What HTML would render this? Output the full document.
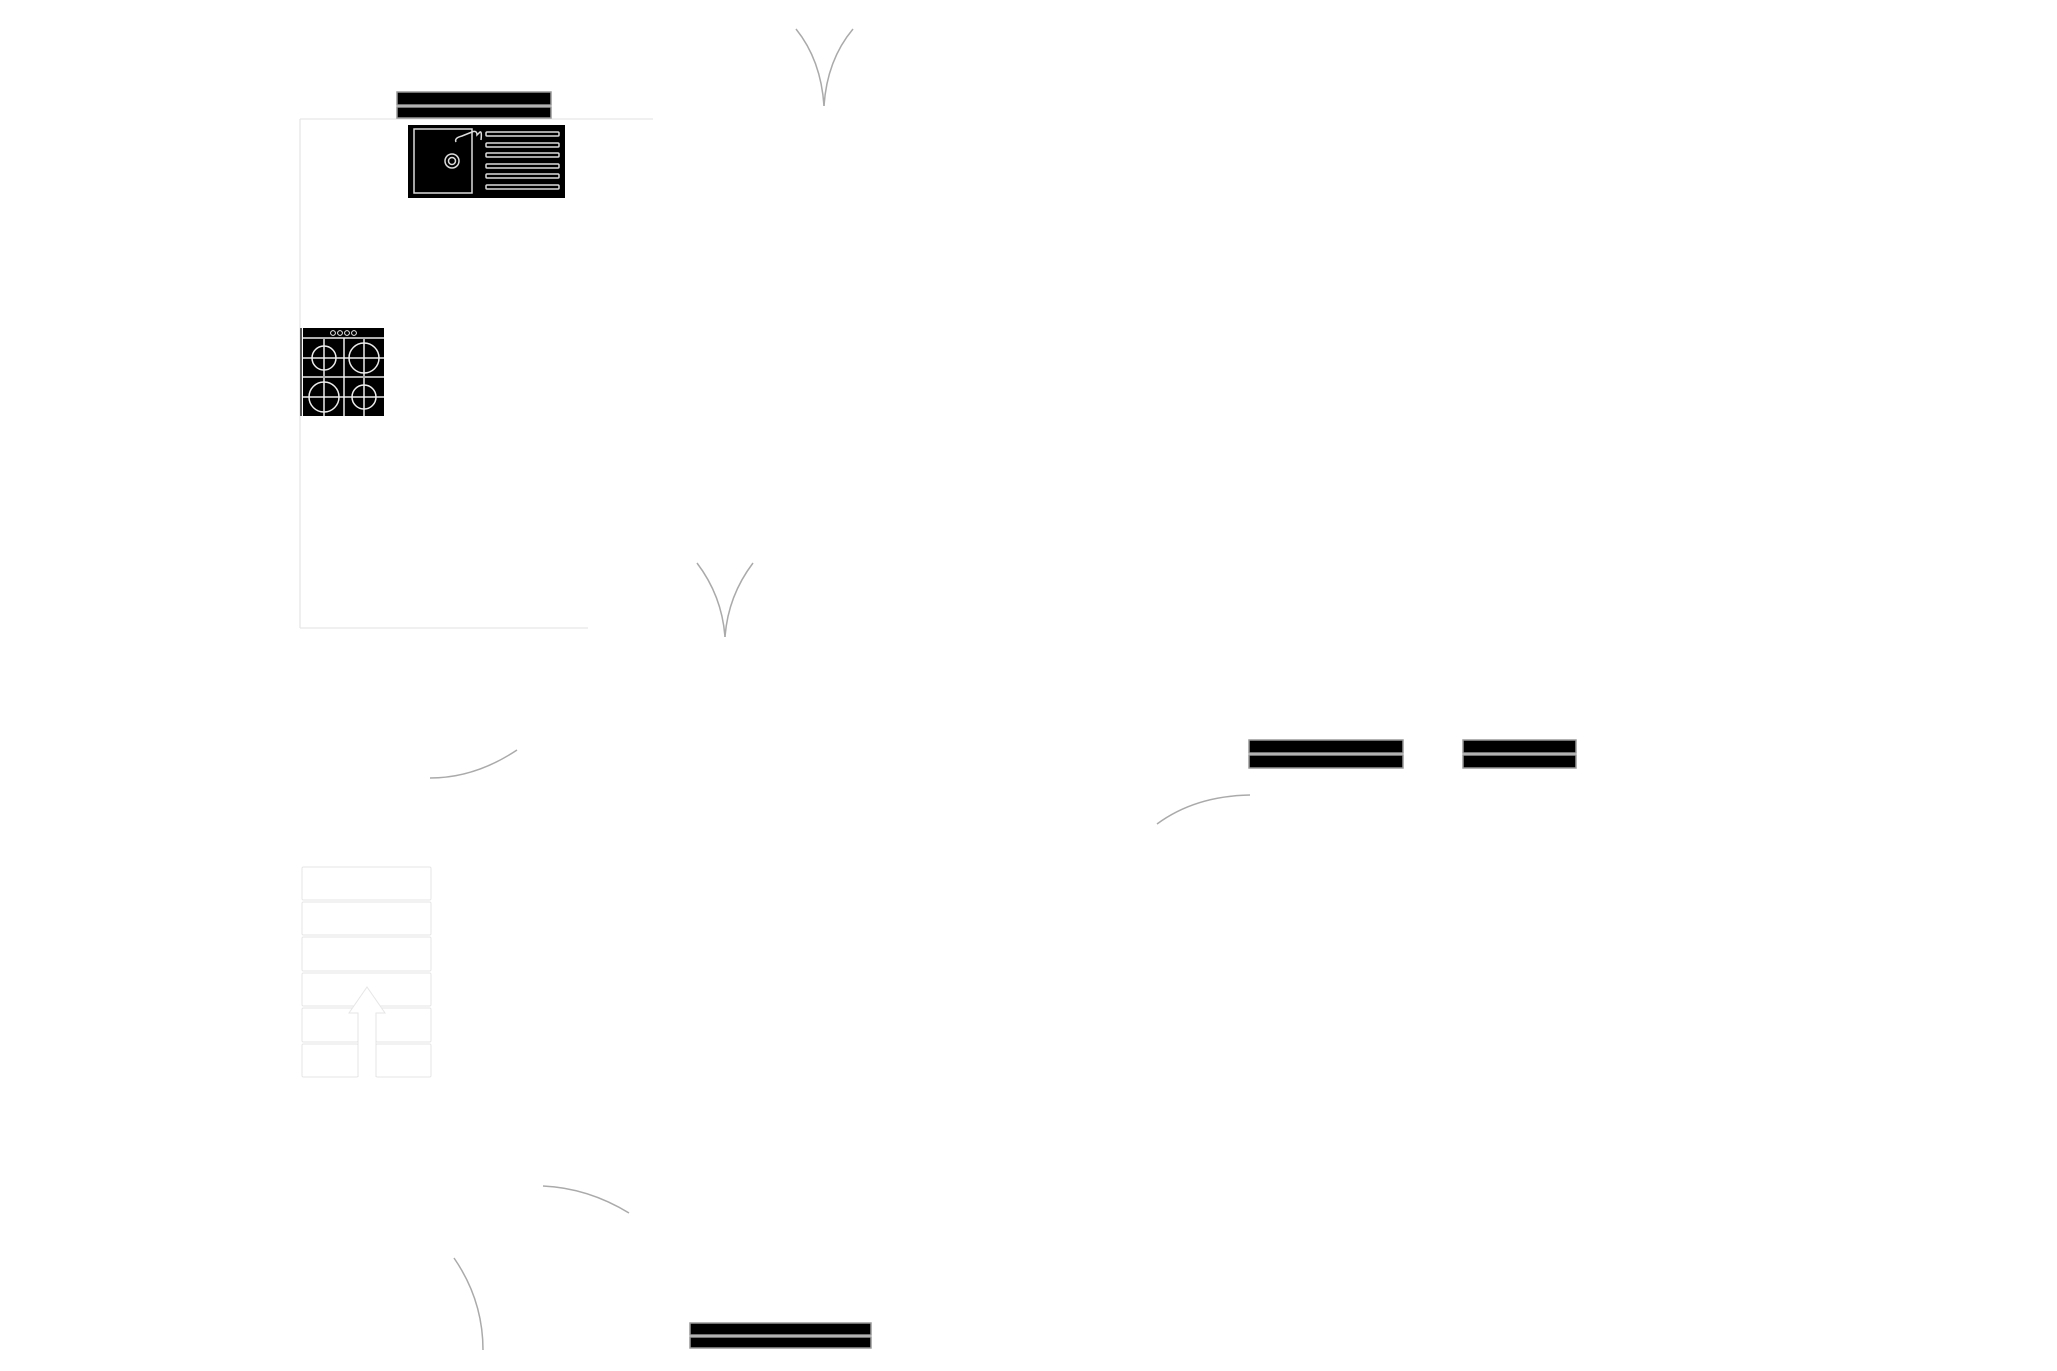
<!DOCTYPE html>
<html><head><meta charset="utf-8"><style>html,body{margin:0;padding:0;background:#fff;}svg{display:block}</style></head>
<body>
<svg width="2057" height="1371" viewBox="0 0 2057 1371" xmlns="http://www.w3.org/2000/svg">
<rect width="2057" height="1371" fill="#fff"/>
<g stroke="#e6e6e6" stroke-width="1.3" fill="none">
<line x1="300" y1="119" x2="653" y2="119"/>
<line x1="300" y1="119" x2="300" y2="628"/>
<line x1="300" y1="628" x2="588" y2="628"/>
</g>
<g fill="#000" stroke="#999" stroke-width="1.5">
<rect x="397" y="92" width="154" height="13"/>
<rect x="397" y="107" width="154" height="11"/>
<rect x="1249" y="740" width="154" height="13"/>
<rect x="1249" y="755" width="154" height="13"/>
<rect x="1463" y="740" width="113" height="13"/>
<rect x="1463" y="755" width="113" height="13"/>
<rect x="690" y="1323" width="181" height="12"/>
<rect x="690" y="1337" width="181" height="11"/>
</g>
<!-- sink -->
<rect x="408" y="125" width="157" height="73" fill="#000"/>
<g stroke="#ddd" stroke-width="1.5" fill="none">
<rect x="414" y="129" width="58" height="64"/>
<circle cx="452" cy="161" r="7"/><circle cx="452" cy="161" r="3.5"/>
<path d="M456 142 q-2 -4 6 -6 l10 -4 q5 -2 5 3 l3 -3 q2 -1 1 8"/>
<rect x="486" y="132" width="73" height="4" rx="1"/>
<rect x="486" y="143" width="73" height="4" rx="1"/>
<rect x="486" y="153" width="73" height="4" rx="1"/>
<rect x="486" y="164" width="73" height="4" rx="1"/>
<rect x="486" y="174" width="73" height="4" rx="1"/>
<rect x="486" y="185" width="73" height="4" rx="1"/>
</g>
<!-- stove -->
<rect x="303" y="328" width="81" height="88" fill="#000"/>
<line x1="301" y1="328" x2="301" y2="416" stroke="#555" stroke-width="2"/>
<g stroke="#eee" stroke-width="1.5" fill="none">
<line x1="303" y1="338" x2="384" y2="338"/>
<line x1="303" y1="377" x2="384" y2="377"/>
<line x1="344" y1="338" x2="344" y2="416"/>
<circle cx="333" cy="333" r="2.4" stroke-width="1"/><circle cx="340" cy="333" r="2.4" stroke-width="1"/>
<circle cx="347" cy="333" r="2.4" stroke-width="1"/><circle cx="354" cy="333" r="2.4" stroke-width="1"/>
<circle cx="324" cy="358" r="12"/><circle cx="364" cy="358" r="15"/>
<circle cx="324" cy="397" r="15"/><circle cx="364" cy="397" r="12"/>
<path d="M303 358h41M324 339v37M344 358h40M364 339v37M303 397h41M324 378v38M344 397h40M364 378v38"/>
</g>
<!-- door arcs -->
<g stroke="#aaa" stroke-width="1.5" fill="none">
<path d="M796 29 Q821 60 824 106"/>
<path d="M853 29 Q827 60 824 106"/>
<path d="M697 563 Q722 596 725 637"/>
<path d="M753 563 Q728 596 725 637"/>
<path d="M430 778 Q475 778 517 750"/>
<path d="M1157 824 Q1195 796 1250 795"/>
<path d="M543 1186 Q588 1188 629 1213"/>
<path d="M454 1258 Q483 1300 483 1350"/>
</g>
<!-- stairs -->
<g stroke="#e6e6e6" stroke-width="1" fill="#fff">
<rect x="302" y="867" width="129" height="33" rx="1.5"/>
<rect x="302" y="902" width="129" height="33" rx="1.5"/>
<rect x="302" y="937" width="129" height="34" rx="1.5"/>
<rect x="302" y="973" width="129" height="33" rx="1.5"/>
<rect x="302" y="1008" width="56" height="34" rx="1.5"/>
<rect x="376" y="1008" width="55" height="34" rx="1.5"/>
<rect x="302" y="1044" width="56" height="33" rx="1.5"/>
<rect x="376" y="1044" width="55" height="33" rx="1.5"/>
<path d="M358 1077 V1013 H349 L367 987 L385 1013 H376 V1077" fill="#fff"/>
</g>
</svg>
</body></html>
